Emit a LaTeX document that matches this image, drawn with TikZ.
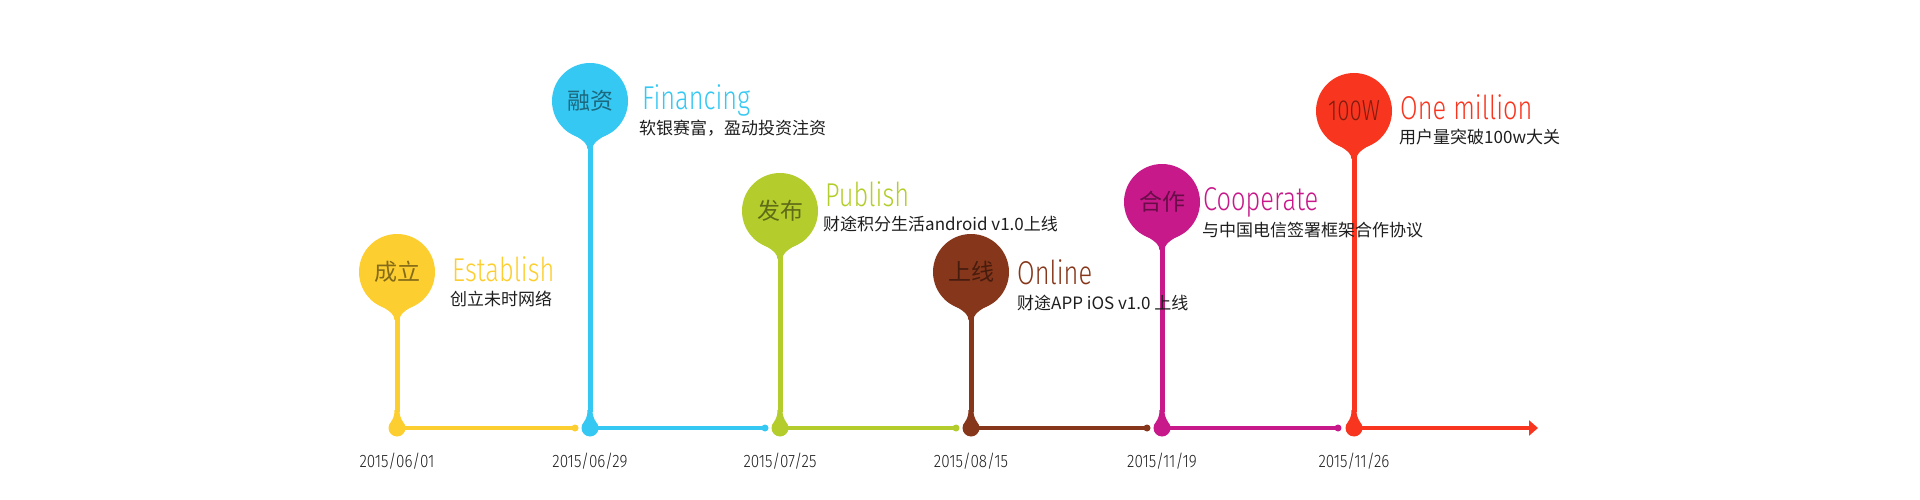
\documentclass[tikz,border=0pt]{standalone}
\usepackage{fontspec}
\usetikzlibrary{arrows.meta}
\newfontfamily\cjkfont{Noto Sans CJK SC}
\newfontfamily\lightfont{Fira Sans Light}[FakeStretch=0.85]
\newfontfamily\titlefont{Fira Sans Light}[FakeStretch=0.77]
\definecolor{cyellow}{HTML}{FDCE30}
\definecolor{cblue}{HTML}{35C8F3}
\definecolor{cgreen}{HTML}{B4CD2C}
\definecolor{cbrown}{HTML}{86361A}
\definecolor{cmagenta}{HTML}{C7198A}
\definecolor{cred}{HTML}{F8361F}
\definecolor{subtext}{HTML}{1E1E1E}
\newcommand\balloon[5]{%
 \fill[#4] (#2,#3) circle[radius=38pt];
 \fill[#4] ({#2-26.9},{#3+26.9}) .. controls ({#2-19.8},{#3+34}) and ({#2-2.5},{#3+38}) .. ({#2-2.5},{#3+48}) -- ({#2+2.5},{#3+48}) .. controls ({#2+2.5},{#3+38}) and ({#2+19.8},{#3+34}) .. ({#2+26.9},{#3+26.9}) -- cycle;
 \fill[#4] ({#2-2.5},{#3+45}) rectangle ({#2+2.5},412);
 \fill[#4] (#2,428) circle[radius=8.5pt];
 \fill[#4] ({#2-6},422) .. controls ({#2-3.5},418) and ({#2-2.5},415) .. ({#2-2.5},410) -- ({#2+2.5},410) .. controls ({#2+2.5},415) and ({#2+3.5},418) .. ({#2+6},422) -- cycle;
 \node[badge, text=#4!52!black] (#1b) at (#2,#3) {#5};
}
\begin{document}
\begin{tikzpicture}[x=1pt,y=-1pt,
  title/.style={anchor=base west, inner sep=0pt, font=\fontsize{33}{33}\titlefont},
  sub/.style={anchor=base west, inner sep=0pt, font=\fontsize{17}{17}\cjkfont, text=subtext},
  datelabel/.style={anchor=base, inner sep=0pt, font=\fontsize{18}{18}\lightfont, text=subtext},
  badge/.style={inner sep=0pt, font=\fontsize{23}{23}\cjkfont},
  seg/.style={line width=3.5pt},
  enddot/.style={radius=3.5pt}]
\useasboundingbox (0,0) rectangle (1920,500);
% timeline coordinates
\coordinate (d1) at (397,428);
\coordinate (d2) at (590,428);
\coordinate (d3) at (780,428);
\coordinate (d4) at (971,428);
\coordinate (d5) at (1162,428);
\coordinate (d6) at (1354,428);
\coordinate (e2) at (575,428);
\coordinate (e3) at (765,428);
\coordinate (e4) at (956,428);
\coordinate (e5) at (1147,428);
\coordinate (e6) at (1338,428);
\coordinate (tip) at (1538,428);
% connectors
\draw[seg, cyellow] (d1) -- (e2); \fill[cyellow] (e2) circle[enddot];
\draw[seg, cblue] (d2) -- (e3); \fill[cblue] (e3) circle[enddot];
\draw[seg, cgreen] (d3) -- (e4); \fill[cgreen] (e4) circle[enddot];
\draw[seg, cbrown] (d4) -- (e5); \fill[cbrown] (e5) circle[enddot];
\draw[seg, cmagenta] (d5) -- (e6); \fill[cmagenta] (e6) circle[enddot];
\draw[seg, cred, -{Triangle[length=9pt,width=15pt]}] (d6) -- (tip);
% balloons
\balloon{n1}{397}{272}{cyellow}{成立}
\balloon{n2}{590}{101}{cblue}{融资}
\balloon{n3}{780}{211}{cgreen}{发布}
\balloon{n4}{971}{272}{cbrown}{上线}
\balloon{n5}{1162}{202}{cmagenta}{合作}
\balloon{n6}{1354}{111}{cred}{{\fontsize{29}{29}\titlefont 100W}}
% titles
\node[title, text=cyellow] (h1) at (452,281) {Establish};
\node[title, text=cblue] (h2) at (642,110) {Financing};
\node[title, text=cgreen] (h3) at (825,206) {Publish};
\node[title, text=cbrown] (h4) at (1017,284) {Online};
\node[title, text=cmagenta] (h5) at (1203,211) {Cooperate};
\node[title, text=cred] (h6) at (1400,120) {One million};
% subtitles
\node[sub] (s1) at (450,305) {创立未时网络};
\node[sub] (s2) at (639,135) {软银赛富，盈动投资注资};
\node[sub] (s3) at (823,230) {财途积分生活android v1.0上线};
\node[sub] (s4) at (1017,309) {财途APP iOS v1.0 上线};
\node[sub] (s5) at (1202,236) {与中国电信签署框架合作协议};
\node[sub] (s6) at (1399,144) {用户量突破100w大关};
% dates
\node[datelabel] (t1) at (397,467) {2015/06/01};
\node[datelabel] (t2) at (590,467) {2015/06/29};
\node[datelabel] (t3) at (780,467) {2015/07/25};
\node[datelabel] (t4) at (971,467) {2015/08/15};
\node[datelabel] (t5) at (1162,467) {2015/11/19};
\node[datelabel] (t6) at (1354,467) {2015/11/26};
\end{tikzpicture}
\end{document}
